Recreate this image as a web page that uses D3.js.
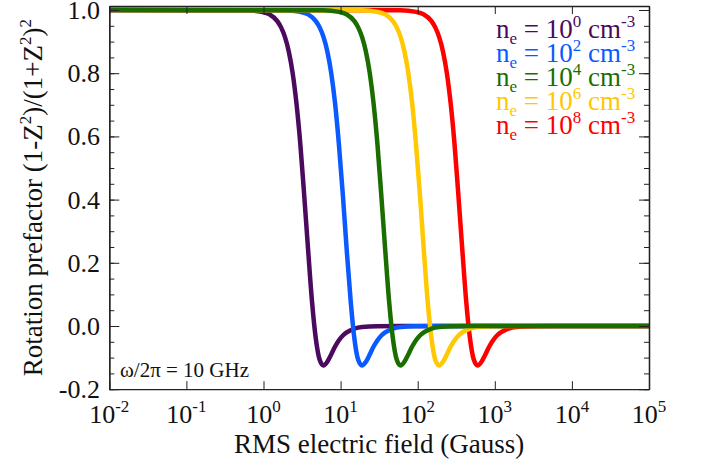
<!DOCTYPE html>
<html>
<head>
<meta charset="utf-8">
<script src="https://cdn.jsdelivr.net/npm/d3@7"></script>
</head>
<body style="margin:0">
<svg id="chart" width="705" height="464"></svg>
<script>
// values: field in Gauss, one array per density
const prefactor = [1.0, 0.999, 0.994, 0.986, 0.965, 0.945, 0.914, 0.868, 0.800, 0.703, 0.573, 0.414,
  0.241, 0.080, -0.040, -0.107, -0.125, -0.113, -0.090, -0.065, -0.045, -0.030, -0.020, -0.008,
  -0.003, -0.0005, 0.0, 0.0];

const field0 = [0.01, 0.60, 0.95, 1.20, 1.51, 1.69, 1.90, 2.13, 2.39, 2.68, 3.01, 3.37, 3.79, 4.25,
  4.77, 5.35, 6.00, 6.73, 7.55, 8.48, 9.51, 10.7, 12.0, 15.1, 19.0, 30.1, 60, 1e5];
const field2 = [0.01, 1.90, 3.01, 3.79, 4.77, 5.35, 6.01, 6.74, 7.56, 8.49, 9.52, 10.7, 12.0, 13.5,
  15.1, 16.9, 19.0, 21.3, 23.9, 26.8, 30.1, 33.8, 37.9, 47.7, 60.1, 95.2, 190, 1e5];
const field4 = [0.01, 6.0, 9.51, 12.0, 15.1, 16.9, 19.0, 21.3, 23.9, 26.8, 30.1, 33.7, 37.9, 42.5,
  47.7, 53.5, 60, 67.3, 75.5, 84.8, 95.1, 107, 120, 151, 190, 301, 600, 1e5];
const field6 = [0.01, 19.0, 30.1, 37.9, 47.7, 53.5, 60.1, 67.4, 75.6, 84.9, 95.2, 107, 120, 134.5,
  151, 169, 190, 213, 239, 268, 301, 338, 379, 477, 601, 952, 1900, 1e5];
const field8 = [0.01, 60, 95.1, 120, 151, 169, 190, 213, 239, 268, 301, 337, 379, 425,
  477, 535, 600, 673, 755, 848, 951, 1067, 1197, 1507, 1897, 3007, 6000, 1e5];

const densityExp = ["0", "2", "4", "6", "8"];
const colors = ["#4b0a5e", "#0a5aff", "#1a6e00", "#ffc800", "#ff0000"];
const fields = [field0, field2, field4, field6, field8];
const drawOrder = [0, 1, 4, 3, 2];

const xTicks = [1e-2, 1e-1, 1e0, 1e1, 1e2, 1e3, 1e4, 1e5];
const xTickExp = ["-2", "-1", "0", "1", "2", "3", "4", "5"];
const yTicks = [-0.2, 0.0, 0.2, 0.4, 0.6, 0.8, 1.0];
const yTickLabels = ["-0.2", "0.0", "0.2", "0.4", "0.6", "0.8", "1.0"];

const svg = d3.select('#chart');
const L = 109.3, R = 649, T = 6, B = 389.2;

const x = d3.scaleLog().domain([1e-2, 1e5]).range([L, R]);
const y = d3.scaleLinear().domain([-0.2, 1.0127]).range([B, T]);

const axisCol = '#222';

// curves
const line = d3.line()
  .x(d => x(d[0]))
  .y(d => y(d[1]))
  .curve(d3.curveMonotoneX);

drawOrder.forEach(i => {
  const pts = fields[i].map((e, k) => [e, prefactor[k]]);
  svg.append('path')
    .datum(pts)
    .attr('d', line)
    .attr('fill', 'none')
    .attr('stroke', colors[i])
    .attr('stroke-width', 4.5)
    .attr('stroke-linejoin', 'round');
});

// frame + ticks (drawn by hand-free d3 axes, labels added separately)
function styleAxis(g) {
  g.attr('font-family', null).attr('font-size', null);
  g.selectAll('path').attr('stroke', axisCol).attr('stroke-width', 1.3);
  g.selectAll('line').attr('stroke', axisCol).attr('stroke-width', 1);
  g.selectAll('text').remove();
}

svg.append('g').attr('transform', `translate(0,${B})`)
  .call(d3.axisBottom(x).tickValues(xTicks).tickSize(-8).tickSizeOuter(0))
  .call(styleAxis);
svg.append('g').attr('transform', `translate(0,${T})`)
  .call(d3.axisTop(x).tickValues(xTicks).tickSize(-8).tickSizeOuter(0))
  .call(styleAxis);

const yMinor = d3.range(-0.2, 1.0001, 0.05);
[[L, d3.axisLeft], [R, d3.axisRight]].forEach(([px, ax]) => {
  svg.append('g').attr('transform', `translate(${px},0)`)
    .call(ax(y).tickValues(yMinor).tickSize(-5).tickSizeOuter(0))
    .call(styleAxis);
  svg.append('g').attr('transform', `translate(${px},0)`)
    .call(ax(y).tickValues(yTicks).tickSize(-10).tickSizeOuter(0))
    .call(styleAxis);
});

function txt(xp, yp, size, color) {
  return svg.append('text')
    .attr('x', xp).attr('y', yp)
    .attr('font-size', size)
    .style('font-family', '"Times New Roman"')
    .attr('fill', color);
}
function sub(t, s, dy, size) {
  return t.append('tspan').attr('dy', dy).attr('font-size', size).text(s);
}

// x tick labels
xTicks.forEach((v, i) => {
  const t = txt(x(v), 423, 26, '#111').attr('text-anchor', 'middle');
  t.append('tspan').text('10');
  sub(t, xTickExp[i], -11, 17);
});

// y tick labels
yTicks.forEach((v, i) => {
  txt(100, y(v) + 9, 26, '#111')
    .attr('text-anchor', 'end')
    .text(yTickLabels[i]);
});

// axis titles
txt((L + R) / 2, 452.5, 27, '#111')
  .attr('text-anchor', 'middle')
  .text('RMS electric field (Gauss)');

const yt = txt(0, 0, 27, '#111')
  .attr('transform', `translate(42,${(T + B) / 2}) rotate(-90)`)
  .attr('text-anchor', 'middle');
yt.append('tspan').text('Rotation prefactor (1-Z');
sub(yt, '2', -11, 17);
sub(yt, ')/(1+Z', 11, 27);
sub(yt, '2', -11, 17);
sub(yt, ')', 11, 27);
sub(yt, '2', -11, 17);

// frequency note
txt(120, 376.7, 21, '#111').text('ω/2π = 10 GHz');

// legend
densityExp.forEach((ex, i) => {
  const t = txt(496, 38 + 24 * i, 27, colors[i]);
  t.append('tspan').text('n');
  sub(t, 'e', 6, 17);
  sub(t, ' = 10', -6, 27);
  sub(t, ex, -11, 17);
  sub(t, ' cm', 11, 27);
  sub(t, '-3', -11, 17);
});
</script>
</body>
</html>
